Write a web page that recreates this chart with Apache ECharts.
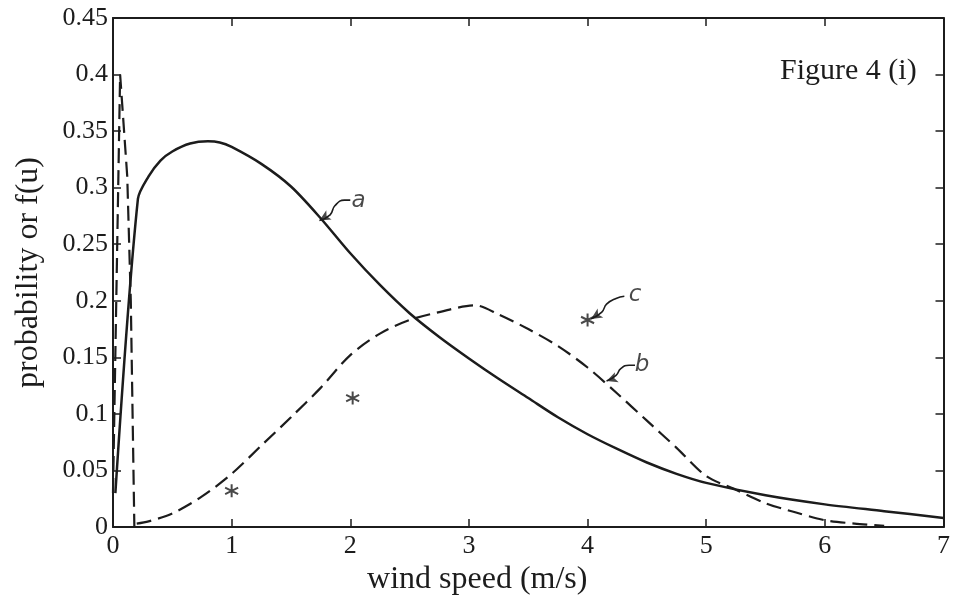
<!DOCTYPE html>
<html>
<head>
<meta charset="utf-8">
<script src="https://cdn.jsdelivr.net/npm/echarts@6/dist/echarts.min.js"></script>
<style>
html,body{margin:0;padding:0;background:#fff;}
#c{width:953px;height:607px;}
</style>
</head>
<body>
<div id="c"></div>
<script>
// Curve a (solid): [wind speed, f(u)]
const curveA = [
  [0.02,0.03],[0.21,0.29],[0.3,0.31],[0.4,0.324],[0.5,0.332],[0.65,0.339],[0.8,0.341],[0.9,0.34],
  [1.0,0.336],[1.25,0.321],[1.5,0.301],[1.75,0.273],[2.0,0.242],[2.25,0.214],[2.5,0.189],
  [2.75,0.168],[3.0,0.149],[3.25,0.131],[3.5,0.114],[3.75,0.097],[4.0,0.082],[4.25,0.069],
  [4.5,0.057],[4.75,0.047],[5.0,0.039],[5.5,0.028],[6.0,0.02],[6.5,0.014],[7.0,0.008]
];
// Curve b (dashed): narrow spike near zero, then the broad hump
const curveBSpike = [
  [0.0,0.03],[0.06,0.40],[0.12,0.31],[0.15,0.2],[0.18,0.0]
];
const curveB = [
  [0.2,0.003],[0.3,0.005],
  [0.5,0.012],[0.75,0.027],[1.0,0.047],[1.25,0.072],[1.5,0.097],[1.75,0.123],[2.0,0.152],
  [2.25,0.171],[2.5,0.183],[2.75,0.19],[3.05,0.196],[3.25,0.188],[3.5,0.175],[3.75,0.16],
  [4.0,0.141],[4.25,0.118],[4.5,0.094],[4.75,0.07],[5.0,0.045],[5.25,0.033],[5.5,0.021],
  [5.75,0.013],[6.0,0.006],[6.25,0.003],[6.5,0.001]
];
// c (asterisk points)
const pointsC = [[1.0,0.032],[2.02,0.114],[4.0,0.183]];
// hand-written annotations: label position and arrow squiggles
const annoLabels = [[2.07,0.288,'a'],[4.4,0.205,'c'],[4.46,0.143,'b']];
const arrowA = [[1.74,0.271],[1.83,0.276],[1.87,0.284],[1.95,0.289],[2.0,0.289]];
const arrowC = [[4.03,0.184],[4.12,0.19],[4.16,0.197],[4.24,0.202],[4.31,0.204]];
const arrowB = [[4.16,0.129],[4.24,0.134],[4.28,0.14],[4.35,0.143],[4.4,0.143]];

const xTicks = {min:0,max:7,interval:1};
const yTicks = {min:0,max:0.45,interval:0.05};

const INK = '#1c1c1c';
const FONT = 'Liberation Serif';
const chart = echarts.init(document.getElementById('c'), null, {renderer:'canvas'});

const arrowHeads = [arrowA[0], arrowC[0], arrowB[0]];
const arrowRot = [120, 122, 110];

function squiggle(data){
  return {type:'line', data:data, smooth:true, showSymbol:false, symbol:'none',
    lineStyle:{color:INK,width:1.6}, silent:true, z:5};
}
const dashStyle = {color:INK,width:2.2,type:[15,7]};

chart.setOption({
  animation:false,
  backgroundColor:'#fff',
  grid:{left:113,right:5,top:18,bottom:80},
  graphic:[{
    type:'text', left:780, top:56,
    style:{text:'Figure 4 (i)', font:'30px "Liberation Serif"', fill:INK}
  }],
  xAxis:[{
    type:'value', min:xTicks.min, max:xTicks.max, interval:xTicks.interval,
    name:'wind speed (m/s)', nameLocation:'middle', nameGap:36,
    nameTextStyle:{fontFamily:FONT,fontSize:32,color:INK,padding:[0,102,0,0]},
    axisLine:{show:true,onZero:false,lineStyle:{color:INK,width:2}},
    axisTick:{show:true,inside:true,length:8,lineStyle:{color:INK,width:1.5}},
    axisLabel:{fontFamily:FONT,fontSize:26,color:INK,margin:6},
    splitLine:{show:false}
  },{
    type:'value', position:'top', min:xTicks.min, max:xTicks.max, interval:xTicks.interval,
    axisLine:{show:true,onZero:false,lineStyle:{color:INK,width:2}},
    axisTick:{show:true,inside:true,length:8,lineStyle:{color:INK,width:1.5}},
    axisLabel:{show:false}, splitLine:{show:false}
  }],
  yAxis:[{
    type:'value', min:yTicks.min, max:yTicks.max, interval:yTicks.interval,
    name:'probability or f(u)', nameLocation:'middle', nameGap:68,
    nameTextStyle:{fontFamily:FONT,fontSize:32,color:INK},
    axisLine:{show:true,onZero:false,lineStyle:{color:INK,width:2}},
    axisTick:{show:true,inside:true,length:8,lineStyle:{color:INK,width:1.5}},
    axisLabel:{fontFamily:FONT,fontSize:26,color:INK,margin:5,
      formatter:v=>String(+v.toFixed(2))},
    splitLine:{show:false}
  },{
    type:'value', position:'right', min:yTicks.min, max:yTicks.max, interval:yTicks.interval,
    axisLine:{show:true,onZero:false,lineStyle:{color:INK,width:2}},
    axisTick:{show:true,inside:true,length:8,lineStyle:{color:INK,width:1.5}},
    axisLabel:{show:false}, splitLine:{show:false}
  }],
  series:[
    {name:'a', type:'line', data:curveA, smooth:0.3, showSymbol:false, symbol:'none',
     lineStyle:{color:INK,width:2.5}, z:3},
    {name:'b', type:'line', data:curveBSpike, smooth:false, showSymbol:false, symbol:'none',
     lineStyle:dashStyle, z:3},
    {name:'b', type:'line', data:curveB, smooth:0.3, showSymbol:false, symbol:'none',
     lineStyle:dashStyle, z:3},
    {name:'c', type:'scatter', data:pointsC,
     symbol:'path://M0,-10L0,10M-8.66,-5L8.66,5M-8.66,5L8.66,-5',
     symbolSize:13, itemStyle:{color:'transparent',borderColor:INK,borderWidth:2}, z:4},
    {name:'labels', type:'scatter', data:annoLabels,
     symbolSize:0, silent:true,
     label:{show:true,position:'inside',formatter:p=>p.data[2],
       fontFamily:'DejaVu Sans',fontStyle:'italic',fontSize:23,color:INK}},
    squiggle(arrowA), squiggle(arrowC), squiggle(arrowB),
    {type:'scatter', silent:true, symbol:'arrow', symbolSize:[8,11], z:6,
     data:arrowHeads.map((p,i)=>({value:p, symbolRotate:arrowRot[i]})),
     itemStyle:{color:INK}}
  ]
});
</script>
</body>
</html>
